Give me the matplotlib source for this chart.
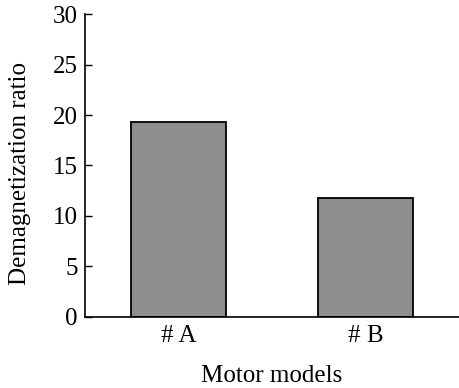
import matplotlib.pyplot as plt

models = ["# A", "# B"]
ratios = [19.3, 11.8]
y_ticks = [0, 5, 10, 15, 20, 25, 30]

plt.rcParams['font.family'] = ['Liberation Serif', 'DejaVu Serif']

fig = plt.figure(figsize=(4.59, 3.88), dpi=100)
ax = fig.add_axes([0.185, 0.184, 0.815, 0.779])

ax.bar(range(len(models)), ratios, width=0.51, color="#8e8e8e",
       edgecolor="black", linewidth=1.3)

ax.set_xlim(-0.5, 1.5)
ax.set_ylim(0, 30)
ax.set_yticks(y_ticks)
ax.set_xticks(range(len(models)))
ax.set_xticklabels(models)

ax.spines['top'].set_visible(False)
ax.spines['right'].set_visible(False)
ax.spines['left'].set_linewidth(1.2)
ax.spines['bottom'].set_linewidth(1.2)
ax.tick_params(axis='y', direction='in', length=5, width=1.0, labelsize=18, pad=5)
ax.tick_params(axis='x', length=0, labelsize=18, pad=6)

ax.set_xlabel("Motor models", fontsize=18, labelpad=13)
ax.set_ylabel("Demagnetization ratio", fontsize=18)
ax.yaxis.set_label_coords(-0.143, 0.475)

fig.savefig("out.png", dpi=100)
